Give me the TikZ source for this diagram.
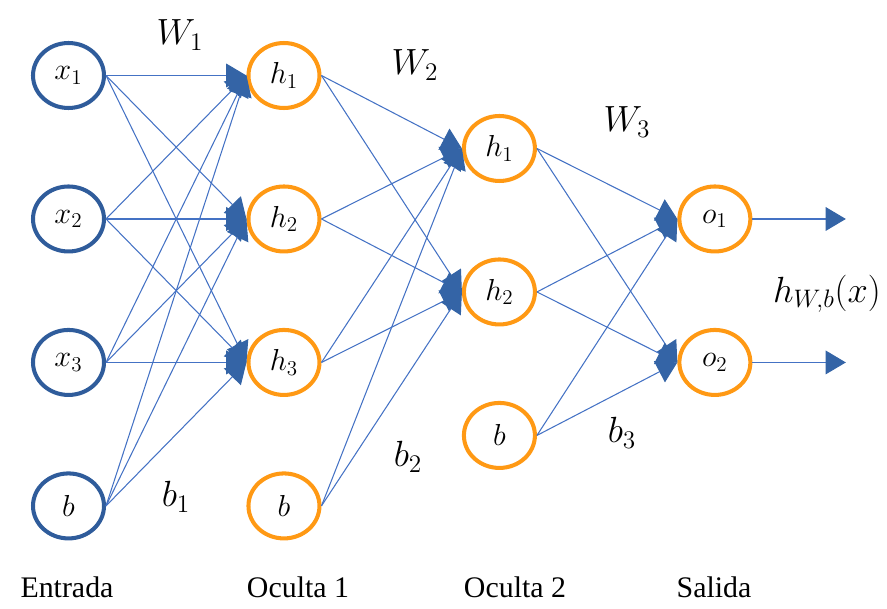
\documentclass[tikz,border=0pt]{standalone}
\usepackage{amsmath}
\usepackage{fontspec}
\newfontfamily\layerfont{Liberation Serif}
\usetikzlibrary{shapes,arrows.meta}

\definecolor{inblue}{RGB}{47,92,155}
\definecolor{hidorange}{RGB}{255,153,20}
\definecolor{wireblue}{RGB}{68,114,196}
\definecolor{tipblue}{RGB}{52,100,166}

\begin{document}
\begin{tikzpicture}[x=0.02cm, y=-0.02cm, node distance=2.87cm,
    every node/.style={font=\fontsize{17}{20}\selectfont},
    neuron/.style={ellipse, line width=2.3pt, inner sep=0pt, minimum width=1.42cm, minimum height=1.3cm},
    inp/.style={neuron, draw=inblue},
    hid/.style={neuron, draw=hidorange},
    conn/.style={draw=wireblue, line width=0.6pt, -{Triangle[length=11.5pt,width=13.5pt,color=tipblue]}},
    lbl/.style={font=\fontsize{19.5}{22}\selectfont},
    layer/.style={font=\layerfont\fontsize{17}{20}\selectfont, anchor=base}]
    \useasboundingbox (0,0) rectangle (887,609);

    \node[inp] (X1) at (68.5,75.5) {$x_1$};
    \node[inp] (X2) [below of=X1] {$x_2$};
    \node[inp] (X3) [below of=X2] {$x_3$};
    \node[inp] (B1) [below of=X3] {$b$};
    \node[hid] (H1) [node distance=4.31cm, right of=X1] {$h_1$};
    \node[hid] (H2) [below of=H1] {$h_2$};
    \node[hid] (H3) [below of=H2] {$h_3$};
    \node[hid] (B2) [below of=H3] {$b$};
    \node[hid] (G1) [node distance=4.31cm, right of=H1, yshift=-1.46cm] {$h_1$};
    \node[hid] (G2) [below of=G1] {$h_2$};
    \node[hid] (B3) [below of=G2] {$b$};
    \node[hid] (O1) [node distance=8.62cm, right of=H2] {$o_1$};
    \node[hid] (O2) [below of=O1] {$o_2$};
    \coordinate[node distance=2.62cm, right of=O1] (Y1);
    \coordinate[node distance=2.62cm, right of=O2] (Y2);

    \node[lbl] (W1) at (180,35) {$W_1$};
    \node[lbl] (W2) at (415,65) {$W_2$};
    \node[lbl] (W3) at (627,122) {$W_3$};
    \node[lbl] (b1) at (176,497) {$b_1$};
    \node[lbl] (b2) at (408,457) {$b_2$};
    \node[lbl] (b3) at (622,433) {$b_3$};
    \node[lbl] (hx) at (827,294) {$h_{W,b}(x)$};

    \node[layer] (Lin) at (67,597) {Entrada};
    \node[layer] (Lh1) at (298,597) {Oculta 1};
    \node[layer] (Lh2) at (515,597) {Oculta 2};
    \node[layer] (Lout) at (714,597) {Salida};

    \path (X1.east) edge[conn] (H1.west)
          (X1.east) edge[conn] (H2.west)
          (X1.east) edge[conn] (H3.west)
          (X2.east) edge[conn] (H1.west)
          (X2.east) edge[conn] (H2.west)
          (X2.east) edge[conn] (H3.west)
          (X3.east) edge[conn] (H1.west)
          (X3.east) edge[conn] (H2.west)
          (X3.east) edge[conn] (H3.west)
          (B1.east) edge[conn] (H1.west)
          (B1.east) edge[conn] (H2.west)
          (B1.east) edge[conn] (H3.west);
    \path (H1.east) edge[conn] (G1.west)
          (H1.east) edge[conn] (G2.west)
          (H2.east) edge[conn] (G1.west)
          (H2.east) edge[conn] (G2.west)
          (H3.east) edge[conn] (G1.west)
          (H3.east) edge[conn] (G2.west)
          (B2.east) edge[conn] (G1.west)
          (B2.east) edge[conn] (G2.west);
    \path (G1.east) edge[conn] (O1.west)
          (G1.east) edge[conn] (O2.west)
          (G2.east) edge[conn] (O1.west)
          (G2.east) edge[conn] (O2.west)
          (B3.east) edge[conn] (O1.west)
          (B3.east) edge[conn] (O2.west);
    \path (O1.east) edge[conn] (Y1)
          (O2.east) edge[conn] (Y2);
\end{tikzpicture}
\end{document}
